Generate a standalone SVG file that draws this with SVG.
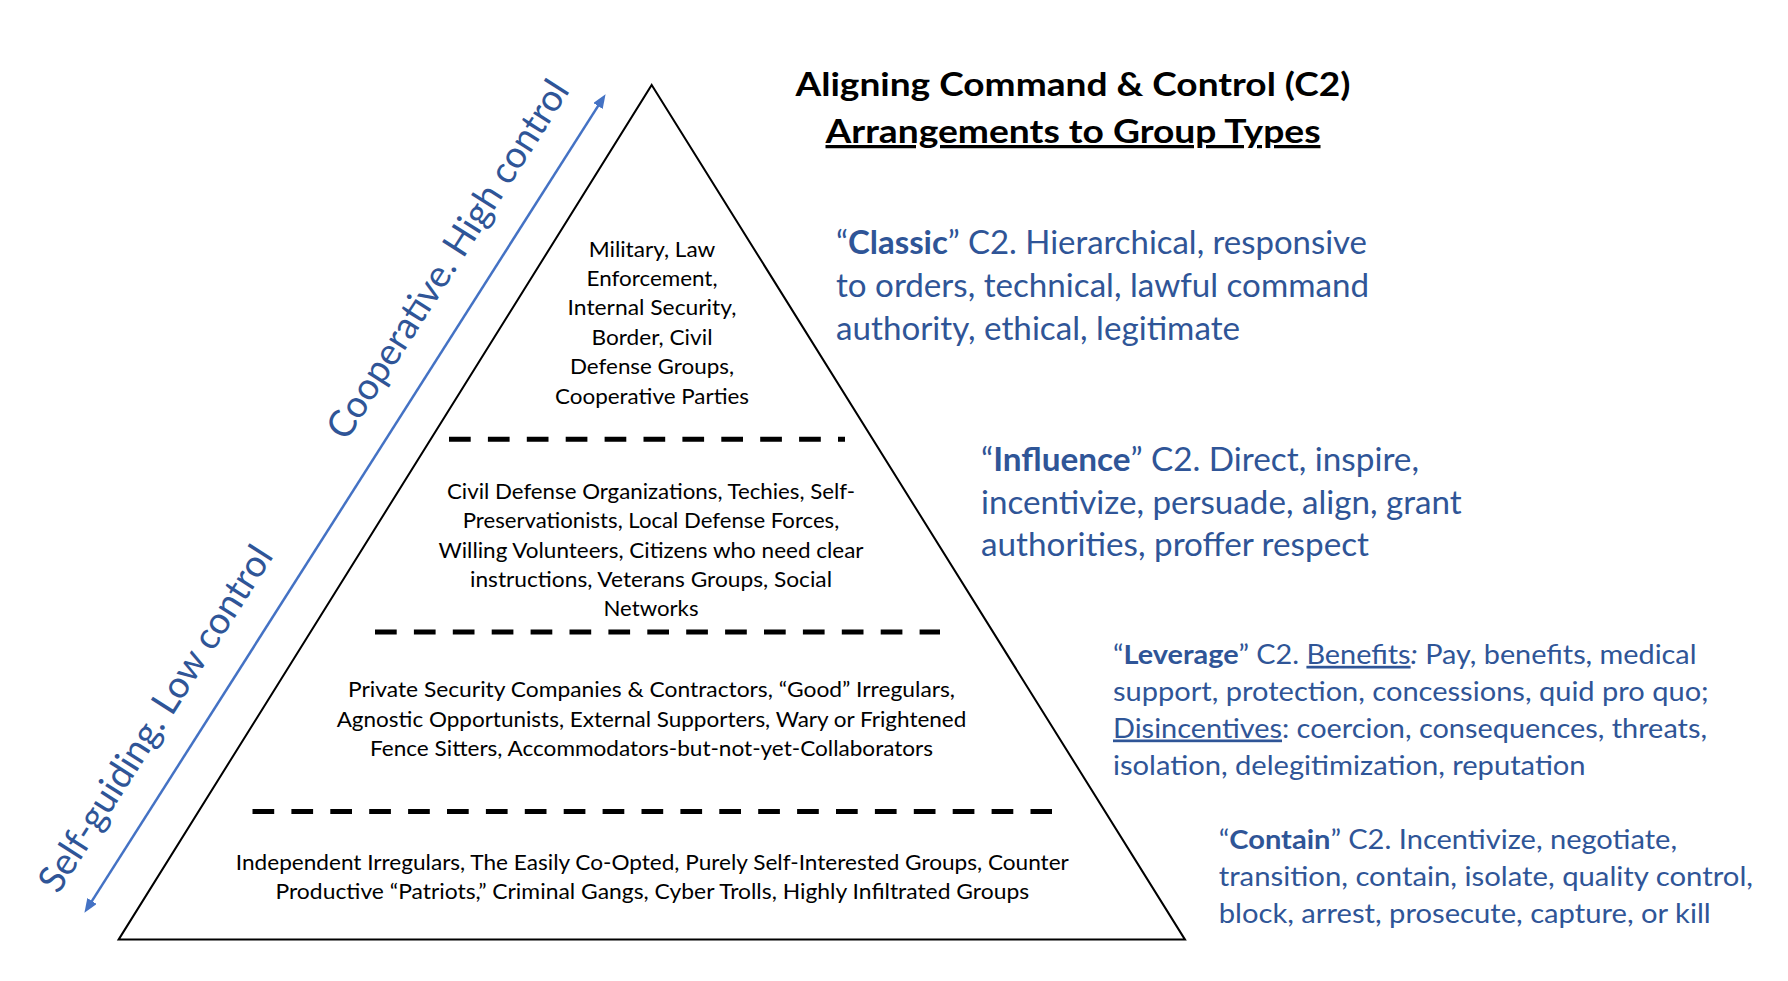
<svg xmlns="http://www.w3.org/2000/svg" width="1788" height="981" viewBox="0 0 1788 981">
<style>
text{font-family:Lato,"Open Sans","Liberation Sans",sans-serif;}
.title{font-size:32.4px;font-weight:bold;fill:#000;}
.axis{font-size:37.5px;fill:#2F5597;}
.big{font-size:32.4px;fill:#2F5597;}
.mid{font-size:27px;fill:#2F5597;}
.pyr{font-size:21.6px;fill:#000;text-anchor:middle;}
.b{font-weight:bold;}
.u{text-decoration:underline;}
.dash{stroke:#000;stroke-width:5;stroke-dasharray:21.7 17.2;fill:none;}
</style>
<defs>
<marker id="ah" markerUnits="userSpaceOnUse" markerWidth="15" markerHeight="12" refX="7" refY="5.5" orient="auto-start-reverse">
<path d="M0,0 L14,5.5 L0,11 z" fill="#4472C4"/>
</marker>
</defs>
<rect width="1788" height="981" fill="#fff"/>

<g id="title">
<text class="title" x="1073" y="96" text-anchor="middle" textLength="555" lengthAdjust="spacingAndGlyphs">Aligning Command &amp; Control (C2)</text>
<text class="title u" x="1073" y="143" text-anchor="middle" textLength="495" lengthAdjust="spacingAndGlyphs">Arrangements to Group Types</text>
</g>

<g id="pyramid">
<polygon points="651.7,85 1185,939.6 118.6,939.6" fill="none" stroke="#000" stroke-width="2"/>
<line class="dash" x1="449" y1="439.3" x2="845" y2="439.3"/>
<line class="dash" x1="375" y1="632" x2="940" y2="632"/>
<line class="dash" x1="252.5" y1="811.5" x2="1052" y2="811.5"/>
</g>

<g id="tier-cooperative">
<text class="pyr" x="652" y="256.7" textLength="126.6" lengthAdjust="spacingAndGlyphs">Military, Law</text>
<text class="pyr" x="652" y="286" textLength="131" lengthAdjust="spacingAndGlyphs">Enforcement,</text>
<text class="pyr" x="652" y="315.3" textLength="168.8" lengthAdjust="spacingAndGlyphs">Internal Security,</text>
<text class="pyr" x="652" y="344.6" textLength="121" lengthAdjust="spacingAndGlyphs">Border, Civil</text>
<text class="pyr" x="652" y="374" textLength="164" lengthAdjust="spacingAndGlyphs">Defense Groups,</text>
<text class="pyr" x="652" y="403.8" textLength="194" lengthAdjust="spacingAndGlyphs">Cooperative Parties</text>
</g>

<g id="tier-influence">
<text class="pyr" x="651" y="499" textLength="408" lengthAdjust="spacingAndGlyphs">Civil Defense Organizations, Techies, Self-</text>
<text class="pyr" x="651" y="528.3" textLength="376.5" lengthAdjust="spacingAndGlyphs">Preservationists, Local Defense Forces,</text>
<text class="pyr" x="651" y="557.5" textLength="425" lengthAdjust="spacingAndGlyphs">Willing Volunteers, Citizens who need clear</text>
<text class="pyr" x="651" y="586.8" textLength="362" lengthAdjust="spacingAndGlyphs">instructions, Veterans Groups, Social</text>
<text class="pyr" x="651" y="616" textLength="95" lengthAdjust="spacingAndGlyphs">Networks</text>
</g>

<g id="tier-leverage">
<text class="pyr" x="651.5" y="697" textLength="607" lengthAdjust="spacingAndGlyphs">Private Security Companies &amp; Contractors, “Good” Irregulars,</text>
<text class="pyr" x="651.5" y="726.6" textLength="629.7" lengthAdjust="spacingAndGlyphs">Agnostic Opportunists, External Supporters, Wary or Frightened</text>
<text class="pyr" x="651.5" y="756.3" textLength="563" lengthAdjust="spacingAndGlyphs">Fence Sitters, Accommodators-but-not-yet-Collaborators</text>
</g>

<g id="tier-contain">
<text class="pyr" x="652.3" y="869.5" textLength="833" lengthAdjust="spacingAndGlyphs">Independent Irregulars, The Easily Co-Opted, Purely Self-Interested Groups, Counter</text>
<text class="pyr" x="652.3" y="899.2" textLength="753.6" lengthAdjust="spacingAndGlyphs">Productive “Patriots,” Criminal Gangs, Cyber Trolls, Highly Infiltrated Groups</text>
</g>

<g id="classic">
<text class="big" x="836" y="254" textLength="531" lengthAdjust="spacingAndGlyphs">“<tspan class="b">Classic</tspan>” C2. Hierarchical, responsive</text>
<text class="big" x="836" y="297" textLength="533" lengthAdjust="spacingAndGlyphs">to orders, technical, lawful command</text>
<text class="big" x="836" y="339.5" textLength="404" lengthAdjust="spacingAndGlyphs">authority, ethical, legitimate</text>
</g>

<g id="influence">
<text class="big" x="981" y="470.8" textLength="438" lengthAdjust="spacingAndGlyphs">“<tspan class="b">Influence</tspan>” C2. Direct, inspire,</text>
<text class="big" x="981" y="513.5" textLength="480.6" lengthAdjust="spacingAndGlyphs">incentivize, persuade, align, grant</text>
<text class="big" x="981" y="555.8" textLength="388" lengthAdjust="spacingAndGlyphs">authorities, proffer respect</text>
</g>

<g id="leverage">
<text class="mid" x="1113" y="663.8" textLength="583.5" lengthAdjust="spacingAndGlyphs">“<tspan class="b">Leverage</tspan>” C2. <tspan class="u">Benefits</tspan><tspan font-style="italic">:</tspan> Pay, benefits, medical</text>
<text class="mid" x="1113" y="700.5" textLength="595.7" lengthAdjust="spacingAndGlyphs">support, protection, concessions, quid pro quo;</text>
<text class="mid" x="1113" y="737.5" textLength="594" lengthAdjust="spacingAndGlyphs"><tspan class="u">Disincentives</tspan>: coercion, consequences, threats,</text>
<text class="mid" x="1113" y="774.8" textLength="472.6" lengthAdjust="spacingAndGlyphs">isolation, delegitimization, reputation</text>
</g>

<g id="contain">
<text class="mid" x="1218.7" y="848.5" textLength="458.3" lengthAdjust="spacingAndGlyphs">“<tspan class="b">Contain</tspan>” C2. Incentivize, negotiate,</text>
<text class="mid" x="1218.7" y="885.5" textLength="534.3" lengthAdjust="spacingAndGlyphs">transition, contain, isolate, quality control,</text>
<text class="mid" x="1218.7" y="922.8" textLength="492" lengthAdjust="spacingAndGlyphs">block, arrest, prosecute, capture, or kill</text>
</g>

<g id="axis-labels">
<text class="axis" transform="translate(346.5,442) rotate(-57.5)" textLength="417" lengthAdjust="spacingAndGlyphs">Cooperative. High control</text>
<text class="axis" transform="translate(58.2,895) rotate(-57.5)" textLength="402" lengthAdjust="spacingAndGlyphs">Self-guiding. Low control</text>
</g>

<g id="connectors">
<line x1="88.2" y1="906.9" x2="601.8" y2="100.1" stroke="#4472C4" stroke-width="2.5" marker-start="url(#ah)" marker-end="url(#ah)"/>
</g>
</svg>
